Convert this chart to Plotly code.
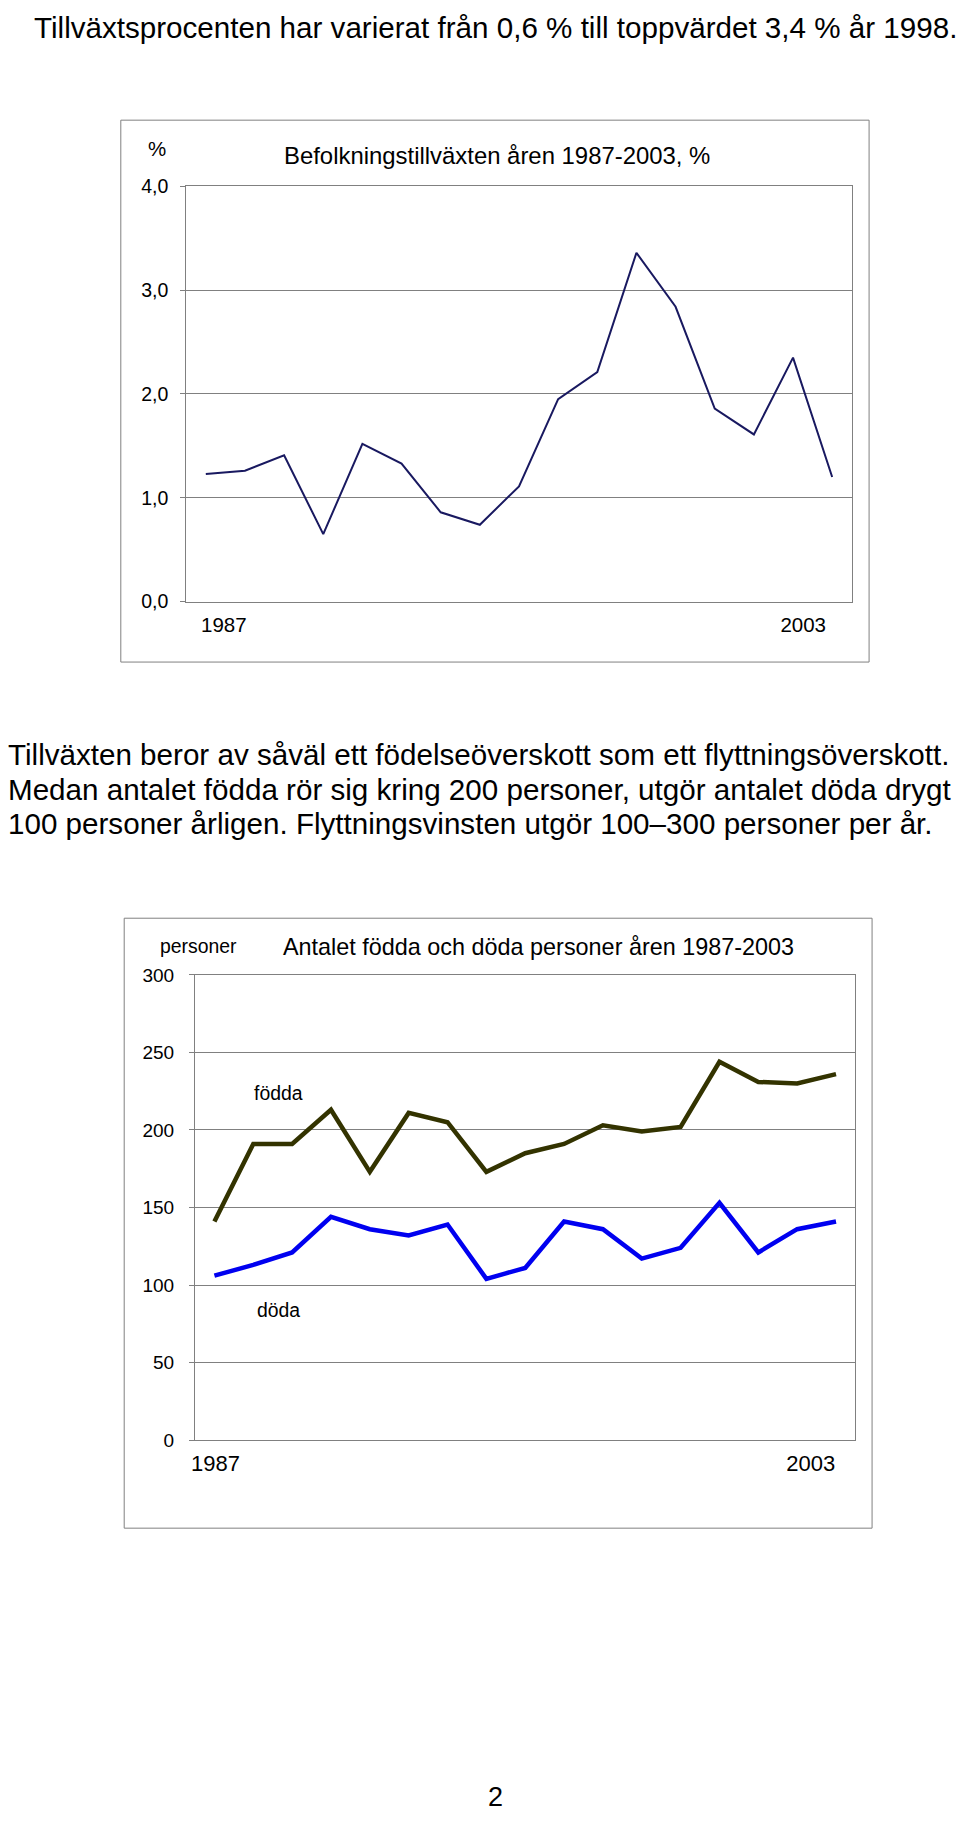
import plotly.graph_objects as go

# page size in px
W, H = 960, 1823

years = list(range(1987, 2004))
growth_pct = [1.23, 1.26, 1.41, 0.65, 1.52, 1.33, 0.86, 0.74, 1.11,
              1.95, 2.21, 3.36, 2.84, 1.86, 1.61, 2.35, 1.20]
born = [141, 191, 191, 213, 173, 211, 205, 173, 185,
        191, 203, 199, 202, 244, 231, 230, 236]
died = [106, 113, 121, 144, 136, 132, 139, 104, 111,
        141, 136, 117, 124, 153, 121, 136, 141]

year_labels = ["1987", "2003"]

intro_text = "Tillväxtsprocenten har varierat från 0,6 % till toppvärdet 3,4 % år 1998."
body_lines = [
    "Tillväxten beror av såväl ett födelseöverskott som ett flyttningsöverskott.",
    "Medan antalet födda rör sig kring 200 personer, utgör antalet döda drygt",
    "100 personer årligen. Flyttningsvinsten utgör 100–300 personer per år.",
]
title1 = "Befolkningstillväxten åren 1987-2003, %"
title2 = "Antalet födda och döda personer åren 1987-2003"

GRAY = "#808080"
FONT = "Arial, Liberation Sans, sans-serif"


def px(x):
    return x / W


def py(y):
    return 1 - y / H


fig = go.Figure()

fig.add_trace(go.Scatter(x=years, y=growth_pct, mode="lines",
                         line=dict(color="#191960", width=2),
                         xaxis="x", yaxis="y"))
fig.add_trace(go.Scatter(x=years, y=born, mode="lines", name="födda",
                         line=dict(color="#333300", width=4.5),
                         xaxis="x2", yaxis="y2"))
fig.add_trace(go.Scatter(x=years, y=died, mode="lines", name="döda",
                         line=dict(color="#0000f0", width=4.5),
                         xaxis="x2", yaxis="y2"))

axis_common = dict(showline=True, linecolor=GRAY, linewidth=1, mirror=True,
                   zeroline=False)

fig.update_layout(
    width=W, height=H,
    margin=dict(t=0, b=0, l=0, r=0),
    paper_bgcolor="white",
    plot_bgcolor="white",
    showlegend=False,
    separators=", ",
    font=dict(family=FONT, size=20, color="black"),
    xaxis=dict(domain=[px(183), px(851.3)], range=[1986.5, 2003.5], anchor="y",
               tickvals=[1987.46, 2002.26], ticktext=year_labels,
               tickfont=dict(size=20.5),
               showgrid=False, ticks="", ticklabelstandoff=5, **axis_common),
    yaxis=dict(domain=[py(597.8), py(177.5)], range=[0, 4], dtick=1, tickformat=".1f",
               anchor="x", showgrid=True, gridcolor=GRAY, gridwidth=1,
               tickfont=dict(size=19.5),
               ticks="outside", ticklen=5, tickcolor=GRAY, ticklabelstandoff=8,
               **axis_common),
    xaxis2=dict(domain=[px(191.8), px(855)], range=[1986.5, 2003.5], anchor="y2",
                tickvals=[1987.03, 2002.35], ticktext=year_labels,
                tickfont=dict(size=22),
                showgrid=False, ticks="", ticklabelstandoff=4, **axis_common),
    yaxis2=dict(domain=[py(1446.5), py(975.7)], range=[0, 300], dtick=50,
                anchor="x2", showgrid=True, gridcolor=GRAY, gridwidth=1,
                tickfont=dict(size=19),
                ticks="outside", ticklen=5, tickcolor=GRAY, ticklabelstandoff=11,
                **axis_common),
)

# outer chart frames
fig.add_shape(type="rect", xref="paper", yref="paper",
              x0=px(117.3), x1=px(868.7), y0=py(659), y1=py(110.5),
              line=dict(color=GRAY, width=1))
fig.add_shape(type="rect", xref="paper", yref="paper",
              x0=px(120.7), x1=px(871.7), y0=py(1535.7), y1=py(918.3),
              line=dict(color=GRAY, width=1))


def note(text, x, y, size, xanchor="left"):
    fig.add_annotation(text=text, x=px(x), y=py(y), xref="paper", yref="paper",
                       xanchor=xanchor, yanchor="middle", showarrow=False,
                       font=dict(size=size, color="black"))


note(intro_text, 28, 16.5, 29.6)
for i, line in enumerate(body_lines):
    note(line, 2, 753 + i * 34.6, 29.6)

note("%", 153.5, 139.5, 20.5, "center")
note(title1, 495.3, 146.7, 23.9, "center")
note("personer", 195.7, 946, 19.4, "center")
note(title2, 536.8, 947.3, 23.4, "center")
note("2", 494, 1808, 27, "center")

fig.add_annotation(text="födda", x=1988.66, y=224, xref="x2", yref="y2",
                   showarrow=False, font=dict(size=19.4, color="black"))
fig.add_annotation(text="döda", x=1988.66, y=84, xref="x2", yref="y2",
                   showarrow=False, font=dict(size=19.4, color="black"))

# drop the default body margin so the figure fills the window exactly
fig.write_html("out.html", config={"displayModeBar": False},
               post_script="document.body.style.margin = '0';")
